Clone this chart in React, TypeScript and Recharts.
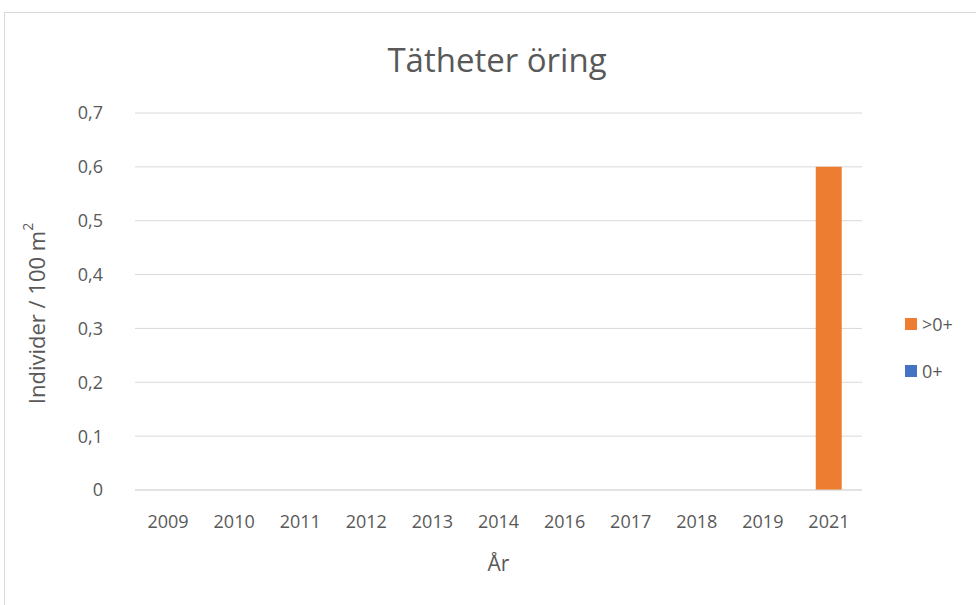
import { Bar, BarChart, CartesianGrid, Label, XAxis, YAxis } from 'recharts'

const years = ['2009', '2010', '2011', '2012', '2013', '2014', '2016', '2017', '2018', '2019', '2021']
const fryValues = [0, 0, 0, 0, 0, 0, 0, 0, 0, 0, 0]
const olderValues = [0, 0, 0, 0, 0, 0, 0, 0, 0, 0, 0.6]
const yTicks = [0, 0.1, 0.2, 0.3, 0.4, 0.5, 0.6, 0.7]

const data = years.map((year, i) => ({ year, fry: fryValues[i], older: olderValues[i] }))

const font = "'Open Sans', sans-serif"
const textColor = '#595959'

function YLabel(props: any) {
  const { viewBox } = props
  const cx = 36
  const cy = viewBox.y + viewBox.height / 2 + 12
  return (
    <text
      x={cx}
      y={cy}
      transform={`rotate(-90 ${cx} ${cy})`}
      textAnchor='middle'
      dominantBaseline='central'
      fill={textColor}
      fontSize={22}
      fontFamily={font}
    >
      Individer / 100 m<tspan fontSize={14} dy={-9}>2</tspan>
    </text>
  )
}

const legendItems = [
  { name: '>0+', color: '#ed7d31' },
  { name: '0+', color: '#4472c4' },
]

export default function App() {
  return (
    <div style={{ position: 'absolute', left: 0, top: 0, width: 976, height: 605, background: '#fff' }}>
      <div
        style={{
          position: 'absolute',
          left: 4,
          top: 12,
          width: 990,
          height: 620,
          border: '1px solid #d9d9d9',
        }}
      />
      <div
        style={{
          position: 'absolute',
          left: 0,
          top: 37,
          width: 994,
          textAlign: 'center',
          fontFamily: font,
          fontSize: 33,
          color: textColor,
        }}
      >
        Tätheter öring
      </div>
      <div style={{ position: 'absolute', left: 0, top: 0 }}>
        <BarChart width={976} height={605} data={data} margin={{ top: 113, right: 114, bottom: 0, left: 0 }} barCategoryGap='30%'>
          <CartesianGrid vertical={false} stroke='#d9d9d9' />
          <XAxis
            dataKey='year'
            tickLine={false}
            axisLine={{ stroke: '#d9d9d9' }}
            tick={{ fill: textColor, fontSize: 18, fontFamily: font }}
            tickMargin={19}
            height={115}
          >
            <Label value='År' position='insideTop' offset={66} fill={textColor} fontSize={21} fontFamily={font} />
          </XAxis>
          <YAxis
            domain={[0, 0.7]}
            ticks={yTicks}
            tickFormatter={(v: number) => String(v).replace('.', ',')}
            tickLine={false}
            axisLine={false}
            tick={{ fill: textColor, fontSize: 18, fontFamily: font }}
            tickMargin={26}
            width={135}
          >
            <Label content={<YLabel />} />
          </YAxis>
          <Bar dataKey='fry' stackId='a' fill='#4472c4' isAnimationActive={false} />
          <Bar dataKey='older' stackId='a' fill='#ed7d31' isAnimationActive={false} />
        </BarChart>
      </div>
      <div style={{ position: 'absolute', left: 905, top: 311, fontFamily: font, fontSize: 18, color: textColor }}>
        {legendItems.map((it) => (
          <div key={it.name} style={{ display: 'flex', alignItems: 'center', height: 25, marginBottom: 22 }}>
            <span style={{ width: 12, height: 12, background: it.color, marginRight: 5 }} />
            {it.name}
          </div>
        ))}
      </div>
    </div>
  )
}
